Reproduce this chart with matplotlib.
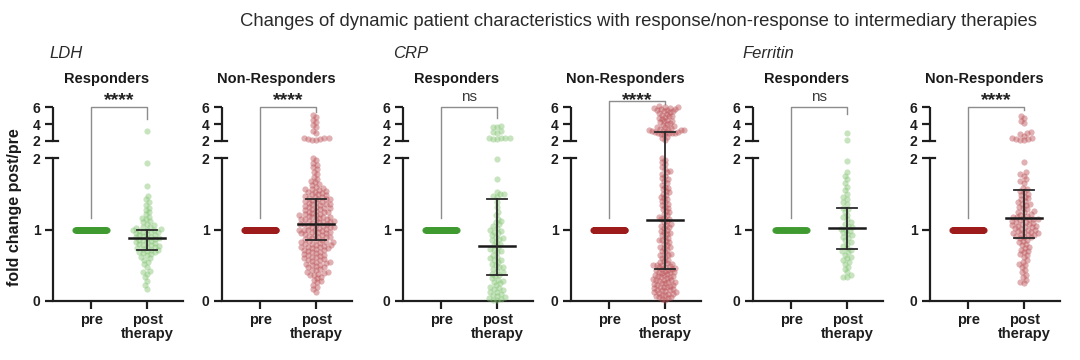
import numpy as np
import matplotlib
matplotlib.use("Agg")
import matplotlib.pyplot as plt
from matplotlib.transforms import blended_transform_factory

plt.rcParams['font.family'] = ['Liberation Sans', 'DejaVu Sans']

# ---------------- data ----------------
markers = ["LDH", "CRP", "Ferritin"]
groups = ["Responders", "Non-Responders"]
x_labels = ["pre", "post\ntherapy"]
significance = ["****", "****", "ns", "****", "ns", "****"]

ldh_resp_post = [0.17, 0.22, 0.28, 0.33, 0.38, 0.40, 0.42, 0.48, 0.52, 0.55, 0.58, 0.60, 0.62, 0.64,
                 0.66, 0.67, 0.68, 0.69, 0.70, 0.71, 0.72, 0.73, 0.74, 0.75, 0.76, 0.77, 0.78, 0.79,
                 0.80, 0.81, 0.82, 0.83, 0.84, 0.85, 0.86, 0.87, 0.88, 0.88, 0.89, 0.90, 0.91, 0.92,
                 0.93, 0.94, 0.95, 0.96, 0.97, 0.97, 0.98, 0.99, 1.00, 1.00, 1.01, 1.02, 1.03, 1.04,
                 1.06, 1.08, 1.10, 1.12, 1.14, 1.16, 1.18, 1.21, 1.24, 1.27, 1.30, 1.34, 1.38, 1.42,
                 1.47, 1.61, 1.93, 3.2]
ldh_nonresp_post = [5.1, 4.8, 4.5, 4.2, 3.9, 3.6, 3.2, 2.9, 2.4, 2.3, 2.3, 2.2, 2.2, 2.1, 2.1,
                    2.0, 1.97, 1.93, 1.9, 1.87, 1.84, 1.8, 1.77, 1.74, 1.71, 1.68, 1.66, 1.64, 1.62, 1.6,
                    1.58, 1.57, 1.56, 1.55, 1.54, 1.53, 1.52, 1.51, 1.5, 1.49, 1.48, 1.47, 1.46, 1.45,
                    1.44, 1.43, 1.42, 1.42,
                    1.41, 1.40, 1.39, 1.38, 1.37, 1.36, 1.35, 1.34, 1.33, 1.32, 1.31, 1.30, 1.29, 1.28,
                    1.27, 1.26, 1.25, 1.24, 1.23, 1.22, 1.21, 1.20, 1.19, 1.18, 1.17, 1.16, 1.15, 1.14,
                    1.13, 1.12, 1.11, 1.10, 1.09, 1.08, 1.08, 1.07, 1.06, 1.05, 1.04, 1.03, 1.02, 1.01,
                    1.00, 1.00, 0.99, 0.98, 0.97, 0.96, 0.95, 0.94, 0.93, 0.92, 0.91, 0.90, 0.89, 0.88,
                    0.87, 0.86, 0.85, 1.35, 1.30, 1.25, 1.20, 1.15, 1.10, 1.05, 1.00, 0.95, 0.90, 1.12,
                    1.18, 0.97, 1.03,
                    0.84, 0.83, 0.82, 0.81, 0.80, 0.79, 0.78, 0.77, 0.76, 0.75, 0.74, 0.73, 0.72, 0.71,
                    0.80, 0.76, 0.74, 0.82,
                    0.70, 0.69, 0.68, 0.67, 0.66, 0.65, 0.64, 0.63, 0.62, 0.61, 0.60, 0.59, 0.58, 0.57,
                    0.56, 0.55, 0.54, 0.53, 0.52, 0.51, 0.50, 0.49, 0.48, 0.47, 0.45, 0.44, 0.43, 0.41,
                    0.40, 0.39,
                    0.38, 0.37, 0.36, 0.34, 0.32, 0.30, 0.28, 0.26, 0.23, 0.20, 0.17, 0.13]
crp_resp_post = [3.8, 3.7, 3.6, 3.2, 3.1, 3.0, 2.4, 2.35, 2.3, 2.3, 2.25, 2.2,
                 1.98, 1.7, 1.52, 1.5, 1.49, 1.47, 1.45, 1.38, 1.32, 1.25, 1.2, 1.15,
                 1.12, 1.10, 1.07, 1.05, 1.02, 1.0, 0.97, 0.95, 0.92, 0.9, 0.87, 0.85, 0.83, 0.8,
                 0.78, 0.75, 0.72, 0.7, 0.68, 0.65, 0.62, 0.6, 0.57, 0.55, 0.52, 0.5, 0.47, 0.45,
                 0.42, 0.4, 0.37, 0.35, 0.32, 0.3, 0.27, 0.25, 0.22, 0.2, 0.17, 0.15, 0.12, 0.1,
                 0.08, 0.06, 0.04, 0.02, 0.01, 0.03, 0.07, 0.13, 0.18, 0.28, 0.38, 0.48, 0.58,
                 0.73, 0.88, 0.98]
crp_nonresp_post = [6.1, 6.0, 5.9, 5.8, 5.7, 5.6, 5.5, 5.4, 5.3, 5.2, 5.0, 4.9, 4.8, 4.6, 4.5,
                    4.3, 4.2, 4.0, 3.9, 3.7, 3.6, 3.5, 3.4, 3.3, 3.2, 3.1, 3.1, 3.0, 3.0, 2.9,
                    2.8, 2.7, 2.5, 2.3, 2.1, 5.95, 5.85, 5.75, 5.5, 5.1, 4.7, 4.4, 4.1, 3.8, 3.45,
                    3.35, 3.25, 3.15, 3.05, 2.95,
                    2.0, 1.97, 1.94, 1.91, 1.88, 1.85, 1.82, 1.8, 1.78, 1.75, 1.72, 1.7, 1.68, 1.65,
                    1.62, 1.6, 1.58, 1.56, 1.54, 1.52, 1.5, 1.48, 1.46, 1.44, 1.42, 1.4, 1.38, 1.36,
                    1.34, 1.32, 1.3, 1.28,
                    1.26, 1.24, 1.22, 1.2, 1.18, 1.16, 1.14, 1.12, 1.1, 1.08, 1.06, 1.04, 1.02, 1.0,
                    0.98, 0.96, 0.94, 0.92, 0.9, 0.88, 0.86, 0.84, 0.82, 0.8, 0.78, 0.76, 0.74, 0.72,
                    0.7, 0.68, 0.66, 0.64, 0.62, 0.6, 0.58, 0.56, 1.15, 1.05, 0.95, 0.85, 0.75, 0.65,
                    0.54, 0.53, 0.52, 0.51, 0.5, 0.49, 0.48, 0.47, 0.46, 0.45, 0.44, 0.43, 0.42, 0.41,
                    0.4, 0.39, 0.38, 0.37, 0.36, 0.35, 0.34, 0.33, 0.32, 0.31, 0.3, 0.29, 0.28, 0.27,
                    0.26, 0.25, 0.24, 0.23, 0.22, 0.21, 0.2, 0.19, 0.18, 0.17, 0.16, 0.15, 0.14, 0.13,
                    0.12, 0.11, 0.1, 0.09, 0.08, 0.07, 0.06, 0.05, 0.04, 0.03, 0.02, 0.5, 0.45, 0.4,
                    0.35, 0.3, 0.25, 0.2, 0.15, 0.1]
ferritin_resp_post = [3.0, 2.1, 1.96, 1.8, 1.75, 1.7, 1.65, 1.6, 1.55, 1.5, 1.45, 1.42, 1.38,
                      1.35, 1.3, 1.28, 1.25, 1.2, 1.17, 1.14, 1.1, 1.08, 1.05, 1.03, 1.01, 1.0,
                      0.98, 0.96, 0.94, 0.92, 0.9, 0.88, 0.85, 0.82, 0.8, 0.77, 0.74, 0.72, 0.7,
                      0.68, 0.65, 0.62, 0.6, 0.57, 0.55, 0.52, 0.48, 0.45, 0.4, 0.36, 0.34, 0.33]
ferritin_nonresp_post = [5.0, 4.7, 4.4, 4.1, 3.1, 3.0, 2.8, 2.6, 2.4, 2.3, 2.2, 2.2, 2.1, 2.1,
                         1.95, 1.8, 1.78, 1.75, 1.7, 1.68, 1.65,
                         1.58, 1.56, 1.54, 1.52, 1.5, 1.48, 1.46, 1.44, 1.42, 1.4, 1.38, 1.36, 1.34,
                         1.32, 1.3, 1.28, 1.26, 1.24, 1.22, 1.2, 1.19, 1.18, 1.17, 1.16, 1.15, 1.14,
                         1.13, 1.12, 1.11, 1.1, 1.09, 1.08, 1.07, 1.06, 1.05, 1.04, 1.03, 1.02, 1.01,
                         1.0, 0.99, 0.98, 0.97, 0.96, 0.95, 0.94, 0.93, 0.92, 0.91, 0.9, 0.89, 0.88,
                         0.86, 0.84, 0.82, 0.8, 0.78, 0.76, 0.74, 0.72, 0.7, 0.68, 0.66, 0.64, 0.62,
                         1.35, 1.25, 1.15, 1.05, 0.95,
                         0.58, 0.55, 0.52, 0.5, 0.47, 0.44, 0.4, 0.37, 0.33, 0.3, 0.27, 0.25]

post_values = [ldh_resp_post, ldh_nonresp_post, crp_resp_post,
               crp_nonresp_post, ferritin_resp_post, ferritin_nonresp_post]
pre_value = 1.0  # post/pre normalisation: every pre value is 1

medians = [0.88, 1.08, 0.77, 1.13, 1.02, 1.16]
q1 = [0.71, 0.85, 0.36, 0.45, 0.73, 0.88]
q3 = [1.00, 1.43, 1.43, 3.05, 1.30, 1.55]

# ---------------- style / layout ----------------
W, H = 1080, 360
fig = plt.figure(figsize=(W / 100, H / 100), dpi=100)

pre_colors = ["#3f9a2f", "#9e1b1b"]
post_colors = ["#84c473", "#bb5055"]
axis_col = "#1e1e1e"

G = 17 / 71.5   # visual gap of the axis break (in lower-segment units)
K = 8.5 / 71.5  # compression of the upper segment


def fwd(y):
    y = np.asarray(y, dtype=float)
    return np.where(y <= 2, y, 2 + G + (y - 2) * K)


def inv(t):
    t = np.asarray(t, dtype=float)
    return np.where(t <= 2, t, np.where(t < 2 + G, 2.0, 2 + (t - 2 - G) / K))


left_px = [53, 222, 403, 571, 753, 930]
ax_w, ax_bottom, ax_h = 130, 59, 194
xlim = (-0.68, -0.68 + 130 / 56)
bracket_top = [6.0, 6.0, 6.0, 6.7, 6.0, 6.0]
bracket_right = [4.6, 5.4, 4.7, 6.35, 5.2, 5.6]
bracket_left = 1.16


def swarm(ypix, d):
    order = np.argsort(ypix)
    xs = np.zeros(len(ypix))
    px, py = [], []
    for i in order:
        y = ypix[i]
        intervals = []
        cands = [0.0]
        for a, b in zip(px, py):
            dy = abs(b - y)
            if dy < d:
                dx = np.sqrt(d * d - dy * dy)
                intervals.append((a - dx, a + dx))
                cands += [a - dx, a + dx]
        cands.sort(key=lambda c: (abs(c), c))
        for c in cands:
            if all(not (lo + 1e-6 < c < hi - 1e-6) for lo, hi in intervals):
                xs[i] = c
                break
        px.append(xs[i])
        py.append(y)
    return xs


for k in range(6):
    g = k % 2
    ax = fig.add_axes([left_px[k] / W, ax_bottom / H, ax_w / W, ax_h / H])
    ax.set_yscale('function', functions=(fwd, inv))
    ax.set_ylim(0, 6)
    ax.set_xlim(*xlim)
    ax.patch.set_alpha(0)
    for s in ["top", "right", "left"]:
        ax.spines[s].set_visible(False)
    ax.spines["bottom"].set_linewidth(1.6)
    ax.spines["bottom"].set_color(axis_col)

    vals = np.array(post_values[k], dtype=float)
    n = len(vals)

    # pre group
    pre_x = np.linspace(-0.28, 0.28, n)
    ax.scatter(pre_x, np.full(n, pre_value), s=20, color=pre_colors[g],
               linewidths=0, alpha=0.9, zorder=3, clip_on=False)

    # post group (beeswarm in pixel space)
    ypix = ax.transData.transform(np.column_stack([np.ones(n), vals]))[:, 1]
    ppu = ax.transData.transform([[1, 0]])[0, 0] - ax.transData.transform([[0, 0]])[0, 0]
    offs = swarm(ypix, 4.2)
    m = np.abs(offs).max()
    if m > 19:
        offs = offs * 19 / m
    ax.scatter(1 + offs / ppu, vals, s=20, color=post_colors[g], linewidths=0,
               alpha=0.45, zorder=3, clip_on=False)

    # median + IQR
    ax.plot([1 - 18 / ppu, 1 + 18 / ppu], [medians[k]] * 2, color="#1a1a1a", lw=1.8, zorder=5)
    ax.plot([1, 1], [q1[k], q3[k]], color="#2a2a2a", lw=1.3, zorder=5)
    for q in (q1[k], q3[k]):
        ax.plot([1 - 10 / ppu, 1 + 10 / ppu], [q, q], color="#2a2a2a", lw=1.3, zorder=5)

    # broken y axis
    bt = blended_transform_factory(ax.transAxes, ax.transData)
    ax.plot([0, 0], [0, 2], transform=bt, color=axis_col, lw=1.6, clip_on=False,
            solid_capstyle="butt")
    ax.plot([0, 0], [2.0001, 6], transform=bt, color=axis_col, lw=1.6, clip_on=False,
            solid_capstyle="butt")
    for yb in (2, 2.0001):
        ax.plot([0, 5 / ax_w], [yb, yb], transform=bt, color=axis_col, lw=1.6, clip_on=False)
    ax.set_yticks([0, 1, 2, 2.0001, 4, 6])
    ax.set_yticklabels(["0", "1", "2", "2", "4", "6"])
    ax.set_xticks([0, 1])
    ax.set_xticklabels(x_labels, linespacing=1.05)
    ax.tick_params(axis="y", direction="out", length=6, width=1.6, color=axis_col,
                   pad=3, labelsize=10, labelcolor=axis_col)
    ax.tick_params(axis="x", direction="out", length=5.5, width=1.6, color=axis_col,
                   pad=3, labelsize=10.5, labelcolor=axis_col)
    for lab in ax.get_yticklabels() + ax.get_xticklabels():
        lab.set_fontweight("bold")
    ax.minorticks_off()

    # significance bracket
    ax.plot([0, 0, 1, 1], [bracket_left, bracket_top[k], bracket_top[k], bracket_right[k]],
            color="#8c8c8c", lw=1.0, clip_on=False, zorder=2)
    x_mid = ax.transData.transform([[0.5, 1]])[0, 0]
    if significance[k] == "ns":
        fig.text(x_mid / W, 1 - 101 / H, significance[k], ha="center", va="baseline",
                 fontsize=11, color="#3a3a3a")
    else:
        fig.text(x_mid / W, 1 - 105 / H, significance[k], ha="center", va="baseline",
                 fontsize=14, fontweight="bold", color="#222222")

    # panel title
    cx = left_px[k] + ax_w / 2 - 11
    fig.text(cx / W, 1 - 79 / H, groups[g], ha="center", va="center",
             fontsize=10.5, fontweight="bold", color="#1a1a1a")

# group labels
for i, (m, xp) in enumerate(zip(markers, [49, 393, 742])):
    fig.text(xp / W, 1 - 54 / H, m, ha="left", va="center", fontsize=12,
             fontstyle="italic", color="#2a2a2a")

fig.text(15 / W, 1 - 207 / H, "fold change post/pre", rotation=90, ha="center",
         va="center", fontsize=11.5, fontweight="bold", color="#1a1a1a")

fig.text(638 / W, 1 - 22 / H,
         "Changes of dynamic patient characteristics with response/non-response to intermediary therapies",
         ha="center", va="center", fontsize=13.3, color="#2a2a2a")

fig.savefig("out.png", dpi=100)
